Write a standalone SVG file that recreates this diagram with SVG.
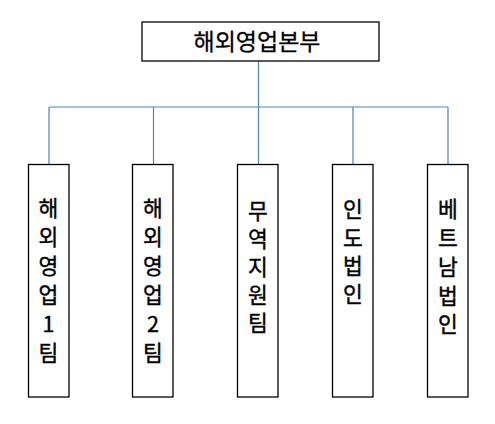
<svg xmlns="http://www.w3.org/2000/svg" width="495" height="424" viewBox="0 0 495 424">
<style>
.box{fill:#fff;stroke:#000;stroke-width:1.3}
.t{font-family:"Malgun Gothic","Noto Sans CJK KR","Noto Sans",sans-serif;font-size:21.5px;fill:#000;stroke:#000;stroke-width:0.4;text-anchor:middle}
.h{font-size:23px;stroke-width:0.3}
.c{stroke:#4f81bd;stroke-width:1.2;fill:none}
</style>
<rect width="495" height="424" fill="#fff"/>
<g id="connectors">
<line class="c" x1="258.5" y1="61" x2="258.5" y2="164"/>
<line class="c" x1="49" y1="107" x2="448" y2="107"/>
<line class="c" x1="49" y1="107" x2="49" y2="164"/>
<line class="c" x1="153.5" y1="107" x2="153.5" y2="164"/>
<line class="c" x1="353" y1="107" x2="353" y2="164"/>
<line class="c" x1="448" y1="107" x2="448" y2="164"/>
</g>
<g id="n0">
<rect class="box" x="142" y="22" width="237" height="39"/>
<text class="t h" x="257" y="50">해외영업본부</text>
</g>
<g id="n1">
<rect class="box" x="28.5" y="164.5" width="40.5" height="232.5"/>
<text class="t"><tspan x="48.5" y="216">해</tspan><tspan x="48.5" y="244.9">외</tspan><tspan x="48.5" y="273.8">영</tspan><tspan x="48.5" y="302.7">업</tspan><tspan x="48.5" y="331.6">1</tspan><tspan x="48.5" y="360.5">팀</tspan></text>
</g>
<g id="n2">
<rect class="box" x="132.5" y="164.5" width="40.5" height="232.5"/>
<text class="t"><tspan x="153" y="216">해</tspan><tspan x="153" y="244.9">외</tspan><tspan x="153" y="273.8">영</tspan><tspan x="153" y="302.7">업</tspan><tspan x="153" y="331.6">2</tspan><tspan x="153" y="360.5">팀</tspan></text>
</g>
<g id="n3">
<rect class="box" x="237.5" y="164.5" width="40.5" height="232.5"/>
<text class="t"><tspan x="258" y="218.7">무</tspan><tspan x="258" y="246.8">역</tspan><tspan x="258" y="274.9">지</tspan><tspan x="258" y="303">원</tspan><tspan x="258" y="331.1">팀</tspan></text>
</g>
<g id="n4">
<rect class="box" x="332.5" y="164.5" width="40.5" height="232.5"/>
<text class="t"><tspan x="353" y="217.4">인</tspan><tspan x="353" y="245.7">도</tspan><tspan x="353" y="274">법</tspan><tspan x="353" y="302.3">인</tspan></text>
</g>
<g id="n5">
<rect class="box" x="427.5" y="164.5" width="40.5" height="232.5"/>
<text class="t"><tspan x="448" y="217.4">베</tspan><tspan x="448" y="246.1">트</tspan><tspan x="448" y="274.9">남</tspan><tspan x="448" y="303.6">법</tspan><tspan x="448" y="332.4">인</tspan></text>
</g>
</svg>
